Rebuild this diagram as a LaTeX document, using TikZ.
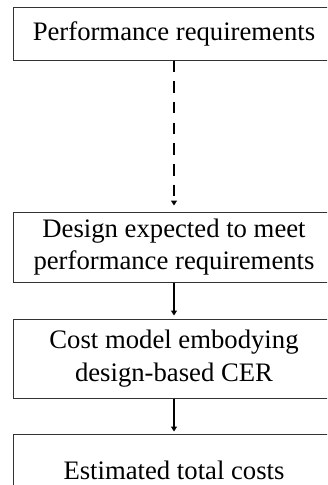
\documentclass[tikz,border=0pt]{standalone}
\usepackage{fontspec}
\setmainfont{Liberation Serif}
\usetikzlibrary{arrows.meta}

\tikzset{
  stagebox/.style={draw=black!80, line width=1pt, fill=white, rectangle,
    minimum width=322pt, inner sep=0pt, align=center,
    font=\fontsize{26.7}{32.5}\selectfont},
  flowline/.style={line width=2.4pt, -{Triangle[width=6pt,length=5pt]}},
}

\begin{document}
\begin{tikzpicture}[x=1pt,y=1pt]
  \useasboundingbox (0,0) rectangle (327,-485);
  \clip (0,0) rectangle (327,-485);

  % process stages, top to bottom
  \node[stagebox, minimum height=53pt] (perf) at (174,-33.5) {Performance requirements};
  \node[stagebox, minimum height=70pt] (design) at (174,-247)
    {Design expected to meet\\performance requirements};
  \node[stagebox, minimum height=79pt] (cost) at (174,-358.5)
    {Cost model embodying\\design-based CER};
  \node[stagebox, minimum height=72pt] (total) at (174,-470)
    {Estimated total costs};

  % connectors
  \draw[flowline, dash pattern=on 11.5pt off 9.2pt, shorten >=6pt]
    (perf.south) -- (design.north);
  \draw[flowline, shorten >=3pt] (design.south) -- (cost.north);
  \draw[flowline, shorten >=2pt] (cost.south) -- (total.north);
\end{tikzpicture}
\end{document}
